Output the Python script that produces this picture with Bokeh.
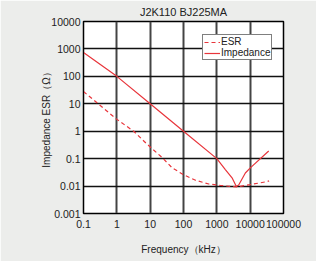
from bokeh.plotting import figure
from bokeh.models import FixedTicker, CustomJSTickFormatter, Legend, LegendItem, Title
from bokeh.embed import file_html
from bokeh.resources import INLINE

title_text = "J2K110 BJ225MA"
x_label = "Frequency（kHz）"
y_label = "Impedance ESR（Ω）"

x_ticks = [0.1, 1, 10, 100, 1000, 10000, 100000]
y_ticks = [0.001, 0.01, 0.1, 1, 10, 100, 1000, 10000]

imp_freq = [0.1, 1, 10, 100, 1000, 1800, 2860, 3850, 4530, 7170, 10100, 36000]
imp_val = [740, 100, 10, 1, 0.1, 0.04, 0.02, 0.0097, 0.011, 0.03, 0.046, 0.19]

esr_freq = [0.1, 1, 3.2, 8, 23, 46, 100, 230, 575, 1300, 2500, 3900, 10000, 31600, 37000]
esr_val = [28, 2.7, 1.0, 0.34, 0.109, 0.046, 0.026, 0.0162, 0.0119, 0.0105, 0.0098, 0.0093, 0.0113, 0.0145, 0.0155]

FONT = "Liberation Sans"
BG = "#ecedeb"
RED = "#e8353b"

p = figure(width=316, height=261, x_axis_type="log", y_axis_type="log",
           x_range=(0.1, 100000), y_range=(0.001, 10000),
           output_backend="svg", toolbar_location=None,
           min_border_left=83, min_border_right=33, min_border_top=21, min_border_bottom=48)
p.background_fill_color = "white"
p.border_fill_color = BG
p.outline_line_color = "black"
p.outline_line_width = 1.5

t = Title(text=title_text, align="center", text_font=FONT, text_font_size="11px",
          text_font_style="normal", text_color="#222222", offset=0, standoff=7)
p.add_layout(t, "above")

fmt = CustomJSTickFormatter(code="return tick >= 1 ? tick.toFixed(0) : tick.toString();")
for ax, ticks in ((p.xaxis[0], x_ticks), (p.yaxis[0], y_ticks)):
    ax.ticker = FixedTicker(ticks=ticks)
    ax.formatter = fmt
    ax.minor_tick_line_color = None
    ax.major_tick_in = 0
    ax.major_tick_out = 0
    ax.major_tick_line_color = None
    ax.axis_line_color = "black"
    ax.major_label_text_font = FONT
    ax.major_label_text_font_size = "10.5px"
    ax.major_label_text_color = "#222222"
    ax.axis_label_text_font = FONT
    ax.axis_label_text_font_size = "10px"
    ax.axis_label_text_font_style = "normal"
    ax.axis_label_text_color = "#222222"
p.xaxis[0].axis_label = x_label
p.yaxis[0].axis_label = y_label
p.xaxis[0].major_label_standoff = 6
p.xaxis[0].axis_label_standoff = 13
p.yaxis[0].major_label_standoff = 3
p.yaxis[0].axis_label_standoff = -4
p.yaxis[0].axis_label_text_baseline = "middle"

p.xgrid.ticker = FixedTicker(ticks=x_ticks)
p.ygrid.ticker = FixedTicker(ticks=y_ticks)
p.xgrid.grid_line_color = "#444444"
p.xgrid.grid_line_width = 2
p.ygrid.grid_line_color = "#111111"
p.ygrid.grid_line_width = 1.5

r_esr = p.line(esr_freq, esr_val, line_color=RED, line_width=1.2, line_dash="4 3")
r_imp = p.line(imp_freq, imp_val, line_color=RED, line_width=1.2)

legend = Legend(items=[LegendItem(label="ESR", renderers=[r_esr]),
                       LegendItem(label="Impedance", renderers=[r_imp])],
                location=(119, 153))
legend.label_text_font = FONT
legend.label_text_font_size = "10px"
legend.label_text_color = "#222222"
legend.label_height = 8
legend.glyph_height = 8
legend.glyph_width = 16
legend.label_standoff = 1
legend.spacing = -3
legend.padding = 1
legend.margin = 0
legend.border_line_color = "black"
legend.border_line_width = 1
legend.background_fill_color = "white"
legend.background_fill_alpha = 1
p.add_layout(legend, "center")

open("out.html", "w").write(file_html(p, INLINE))
